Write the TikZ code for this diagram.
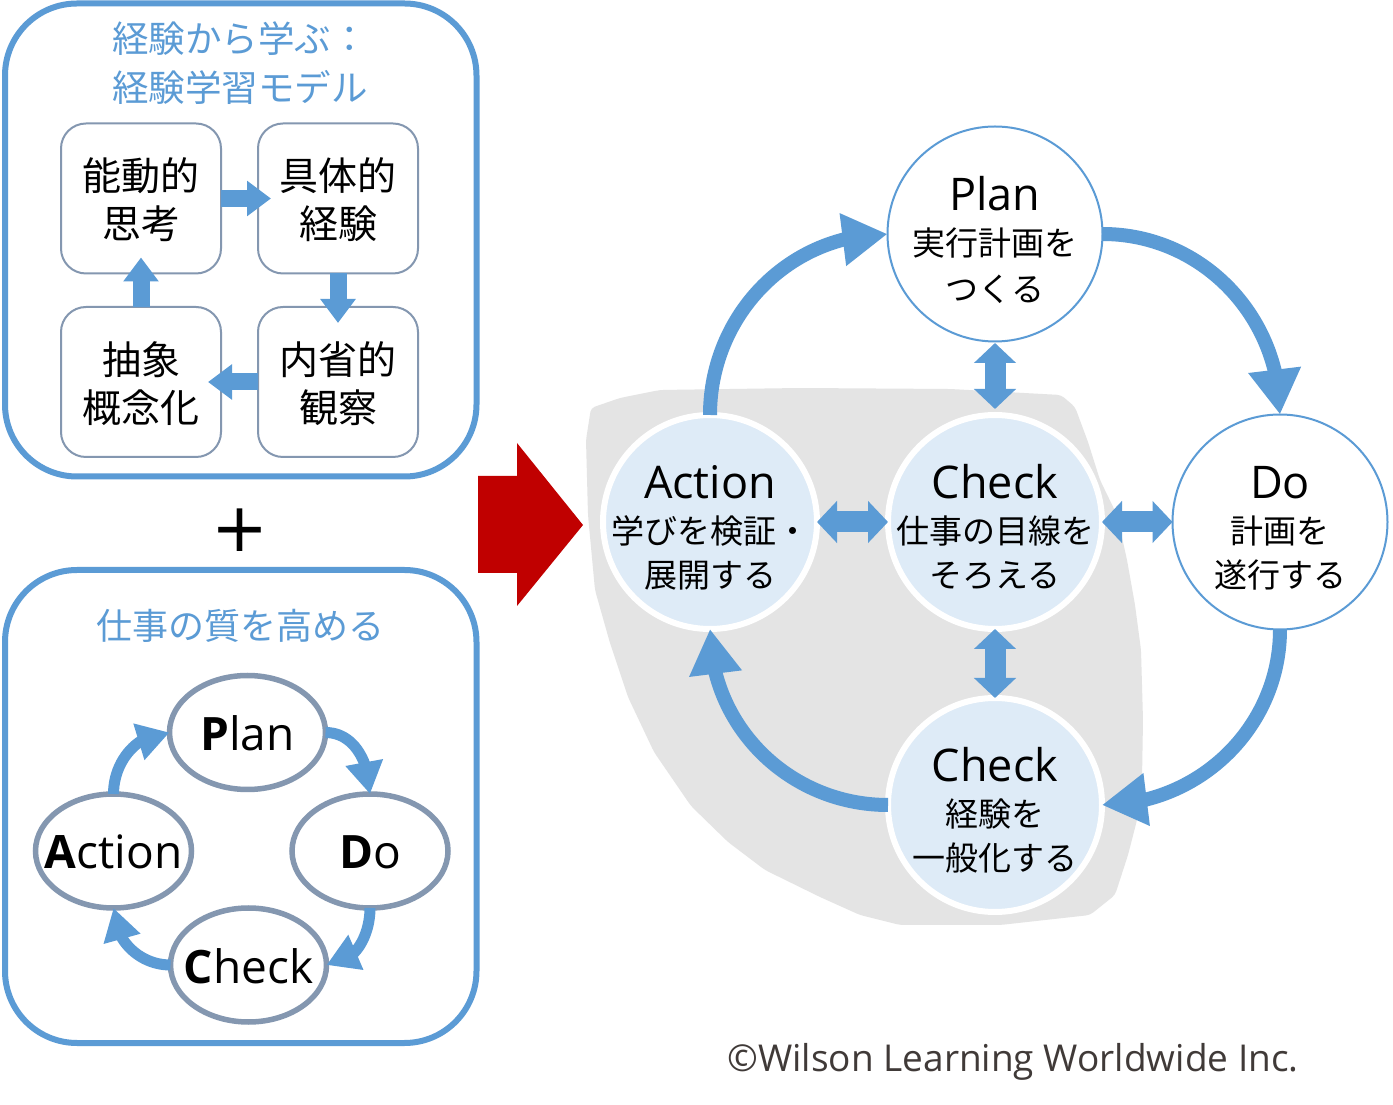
\documentclass[tikz,border=0pt]{standalone}
\usepackage{fontspec}
\setmainfont{Open Sans}
\newfontfamily\jp{Noto Sans CJK JP}
\newfontfamily\dvs{DejaVu Sans}
\usetikzlibrary{arrows.meta,bending,shapes.geometric}
\definecolor{myblue}{RGB}{91,155,213}
\definecolor{ellgray}{RGB}{132,151,176}
\definecolor{lightfill}{RGB}{222,235,247}
\definecolor{blobgray}{RGB}{228,228,228}
\definecolor{myred}{RGB}{192,0,0}
\definecolor{copyc}{RGB}{64,58,56}
\newcommand\fsz[1]{\fontsize{#1}{#1}\selectfont}
\begin{document}
\begin{tikzpicture}[x=1pt,y=1pt,
  every node/.style={outer sep=0pt},
  txt/.style={inner sep=0pt, anchor=base},
  bigbox/.style={draw=myblue, line width=6pt, rounded corners=72pt},
  ibox/.style={draw=ellgray, line width=2pt, rounded corners=25pt, minimum width=160pt, minimum height=150pt, inner sep=0pt, fill=white},
  boxarrow/.style={draw=myblue, line width=17pt, -{Triangle[length=24pt,width=34pt]}},
  ell/.style={ellipse, draw=ellgray, line width=5.5pt, minimum width=156pt, minimum height=114pt, inner sep=0pt, fill=white},
  sarc/.style={draw=myblue, line width=11pt, -{Triangle[length=32pt,width=36pt]}},
  rcw/.style={circle, draw=myblue, line width=2pt, fill=white, minimum size=215pt, inner sep=0pt},
  rcb/.style={circle, draw=white, line width=6pt, fill=lightfill, minimum size=214pt, inner sep=0pt},
  barc/.style={draw=myblue, line width=14pt, -{Triangle[length=45pt,width=50pt]}},
  dbl/.style={draw=myblue, line width=21pt, {Triangle[length=20pt,width=41pt]}-{Triangle[length=20pt,width=41pt]}},
  headf/.style={txt, font=\fsz{45}},
  jpf/.style={txt, font=\jp\fsz{33}},
  boxf/.style={txt, font=\jp\fsz{39}},
  pdf/.style={txt, font=\fsz{46}},
]
\useasboundingbox (0,0) rectangle (1393,1104);
\fill[white] (0,0) rectangle (1393,1104);

% gray background blob
\fill[blobgray, rounded corners=4pt] (591,696) -- (620,706) -- (660,714) -- (800,716) -- (950,715) -- (1061,709) -- (1075,697) -- (1088,662) -- (1100,624) -- (1117,589) -- (1127,544) -- (1135,499) -- (1141,454) -- (1143,384) -- (1142,324) -- (1137,284) -- (1128,249) -- (1115,209) -- (1090,189) -- (1000,179) -- (900,179) -- (860,189) -- (820,207) -- (765,234) -- (728,262) -- (691,298) -- (654,352) -- (628,407) -- (610,461) -- (595,514) -- (588,589) -- (586,664) -- cycle;

% red block arrow
\fill[myred] (478,628) -- (517,628) -- (517,661) -- (583,579) -- (517,498) -- (517,531) -- (478,531) -- cycle;

% ===== left top box =====
\draw[bigbox] (5,627.5) rectangle (476.5,1100.5);
\node[txt, font=\jp\fsz{36.5}, text=myblue] (t1) at (240,1051) {経験から学ぶ：};
\node[txt, font=\jp\fsz{36.5}, text=myblue] (t2) at (240,1002) {経験学習モデル};

\node[ibox] (b1) at (141,905.5) {};
\node[ibox] (b2) at (338,905.5) {};
\node[ibox] (b3) at (141,722) {};
\node[ibox] (b4) at (338,722) {};
\node[boxf] at ([yshift=7.5pt]b1.center) {能動的};
\node[boxf] at ([yshift=-40.5pt]b1.center) {思考};
\node[boxf] at ([yshift=7.5pt]b2.center) {具体的};
\node[boxf] at ([yshift=-40.5pt]b2.center) {経験};
\node[boxf] at ([yshift=7.5pt]b3.center) {抽象};
\node[boxf] at ([yshift=-40.5pt]b3.center) {概念化};
\node[boxf] at ([yshift=7.5pt]b4.center) {内省的};
\node[boxf] at ([yshift=-40.5pt]b4.center) {観察};
\draw[boxarrow] (b1.east) -- ([xshift=13pt]b2.west);
\draw[boxarrow] (b2.south) -- ([yshift=-16pt]b4.north);
\draw[boxarrow] (b4.west) -- ([xshift=-13pt]b3.east);
\draw[boxarrow] (b3.north) -- ([yshift=16pt]b1.south);

% plus
\node[inner sep=0pt, font=\dvs\fsz{68}] (plus) at (240,574) {+};

% ===== left bottom box =====
\draw[bigbox] (5,61) rectangle (476.5,534);
\node[txt, font=\jp\fsz{36}, text=myblue] (t3) at (240,464) {仕事の質を高める};

\node[ell] (P) at (247.5,371.5) {};
\node[ell] (A) at (113.5,253) {};
\node[ell] (D) at (370,253) {};
\node[ell] (C) at (248.5,139) {};
\node[pdf] at ([yshift=-18pt]P.center) {\textbf{P}lan};
\node[pdf] at ([yshift=-18pt]A.center) {\textbf{A}ction};
\node[pdf] at ([yshift=-18pt]D.center) {\textbf{D}o};
\node[pdf] at ([yshift=-18pt]C.center) {\textbf{C}heck};
\draw[sarc] (A.north) to[out=90,in=180] (P.west);
\draw[sarc] (P.east) to[out=0,in=90] (D.north);
\draw[sarc] (D.south) to[out=-90,in=0] (C.east);
\draw[sarc] (C.west) to[out=180,in=-90] (A.south);

% ===== right cycle =====
\node[rcw] (PR) at (995,870) {};
\node[rcw] (DR) at (1280,582) {};
\node[rcb] (AR) at (710,582) {};
\node[rcb] (CM) at (995,582) {};
\node[rcb] (CB) at (995,299) {};

\draw[barc] (AR.north) to[out=90,in=180] (PR.west);
\draw[barc] (PR.east) to[out=0,in=90] (DR.north);
\draw[barc] (DR.south) to[out=-90,in=0] (CB.east);
\draw[barc] (CB.west) to[out=180,in=-90] (AR.south);

\draw[dbl] ([yshift=-1.5pt]PR.south) -- ([yshift=6pt]CM.north);
\draw[dbl] (CM.south) -- (CB.north);
\draw[dbl] (AR.east) -- (CM.west);
\draw[dbl] (CM.east) -- (DR.west);

\node[headf] at ([yshift=23pt]PR.center) {Plan};
\node[jpf] at ([yshift=-21.5pt]PR.center) {実行計画を};
\node[jpf] at ([yshift=-67.5pt]PR.center) {つくる};

\node[headf] at ([yshift=23pt]AR.center) {Action};
\node[jpf] at ([yshift=-21.5pt]AR.center) {学びを検証・};
\node[jpf] at ([yshift=-65.5pt]AR.center) {展開する};

\node[headf] at ([yshift=23pt]CM.center) {Check};
\node[jpf] at ([yshift=-21.5pt]CM.center) {仕事の目線を};
\node[jpf] at ([yshift=-65.5pt]CM.center) {そろえる};

\node[headf] at ([yshift=23pt]DR.center) {Do};
\node[jpf] at ([yshift=-21.5pt]DR.center) {計画を};
\node[jpf] at ([yshift=-65.5pt]DR.center) {遂行する};

\node[headf] at ([yshift=23pt]CB.center) {Check};
\node[jpf] at ([yshift=-21.5pt]CB.center) {経験を};
\node[jpf] at ([yshift=-65.5pt]CB.center) {一般化する};

% copyright
\node[txt, font=\fsz{37}, text=copyc] (copy) at (1013,33) {©Wilson Learning Worldwide Inc.};
\end{tikzpicture}
\end{document}
